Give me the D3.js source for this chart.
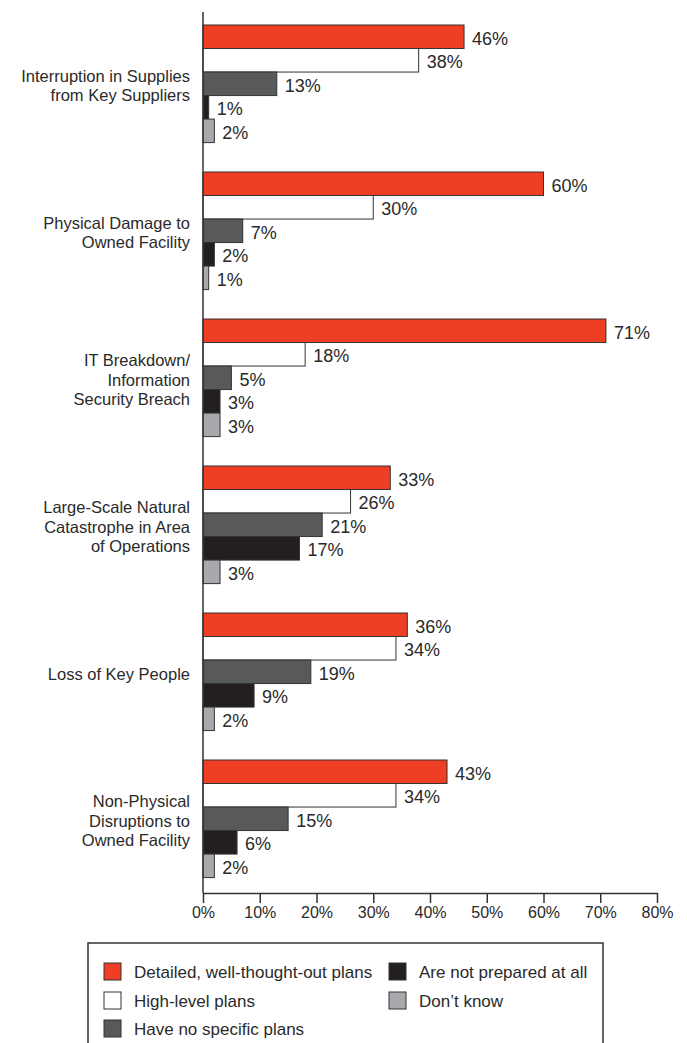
<!DOCTYPE html>
<html>
<head>
<meta charset="utf-8">
<script src="https://cdn.jsdelivr.net/npm/d3@7"></script>
<style>
  body { margin: 0; background: #fff; }
  svg { display: block; font-family: "Liberation Sans", Arial, sans-serif; }
</style>
</head>
<body>
<div id="chart"></div>
<script>
// --- data ---
const categories = [
  ["Interruption in Supplies", "from Key Suppliers"],
  ["Physical Damage to", "Owned Facility"],
  ["IT Breakdown/", "Information", "Security Breach"],
  ["Large-Scale Natural", "Catastrophe in Area", "of Operations"],
  ["Loss of Key People"],
  ["Non-Physical", "Disruptions to", "Owned Facility"]
];
const seriesNames = ["Detailed, well-thought-out plans", "High-level plans", "Have no specific plans",
  "Are not prepared at all", "Don\u2019t know"];
const detailed = [46, 60, 71, 33, 36, 43];
const highLevel = [38, 30, 18, 26, 34, 34];
const noSpecific = [13, 7, 5, 21, 19, 15];
const notPrepared = [1, 2, 3, 17, 9, 6];
const dontKnow = [2, 1, 3, 3, 2, 2];
const seriesColors = ["#ee3e23", "#ffffff", "#58595b", "#231f20", "#a7a9ac"];
const xTicks = [0, 10, 20, 30, 40, 50, 60, 70, 80];

const series = [detailed, highLevel, noSpecific, notPrepared, dontKnow];

const W = 687, H = 1043;
const svg = d3.select("#chart").append("svg").attr("width", W).attr("height", H);

const x = d3.scaleLinear().domain([0, 80]).range([203, 657]);
const y0 = d3.scaleBand().domain(d3.range(categories.length))
  .range([10.3, 892.3]).paddingInner(0.2).paddingOuter(0.1);
const y1 = d3.scaleBand().domain(d3.range(series.length)).range([0, y0.bandwidth()]);

// bars
const groups = svg.selectAll("g.grp").data(categories).join("g")
  .attr("class", "grp")
  .attr("transform", (d, i) => `translate(0,${y0(i)})`);

groups.each(function(cat, ci) {
  const g = d3.select(this);
  series.forEach((vals, si) => {
    const v = vals[ci];
    g.append("rect")
      .attr("x", x(0))
      .attr("y", y1(si))
      .attr("width", x(v) - x(0))
      .attr("height", y1.bandwidth())
      .attr("fill", seriesColors[si])
      .attr("stroke", "#333")
      .attr("stroke-width", 1);
    g.append("text")
      .attr("x", x(v) + 8)
      .attr("y", y1(si) + y1.bandwidth() / 2 + 1.5)
      .attr("dy", "0.36em")
      .attr("font-size", 18)
      .attr("fill", "#2a2a2a")
      .text(v + "%");
  });
  const lh = 19.5;
  const cy = y0.bandwidth() / 2 + 2 - (cat.length - 1) * lh / 2;
  g.append("text")
    .attr("text-anchor", "end")
    .attr("font-size", 16.5)
    .attr("fill", "#2a2a2a")
    .selectAll("tspan").data(cat).join("tspan")
    .attr("x", 190)
    .attr("y", (d, i) => cy + i * lh)
    .attr("dy", "0.35em")
    .text(d => d);
});

// axes
svg.append("line")
  .attr("x1", x(0)).attr("x2", x(0)).attr("y1", 12).attr("y2", 893)
  .attr("stroke", "#333").attr("stroke-width", 1.5);

const xAxis = svg.append("g")
  .attr("transform", "translate(0,893)")
  .call(d3.axisBottom(x).tickValues(xTicks).tickSize(10).tickSizeOuter(0).tickFormat(d => d + "%"));
xAxis.select(".domain").attr("stroke", "#333").attr("stroke-width", 1.5);
xAxis.selectAll(".tick line").attr("stroke", "#333").attr("stroke-width", 1.5);
xAxis.selectAll(".tick text")
  .attr("font-family", "Liberation Sans, Arial, sans-serif")
  .attr("font-size", 16).attr("fill", "#2a2a2a").attr("y", 14);

// legend
const legend = svg.append("g");
legend.append("rect")
  .attr("x", 88).attr("y", 943).attr("width", 515).attr("height", 120)
  .attr("fill", "none").attr("stroke", "#333").attr("stroke-width", 1.5);

const legendPos = [[104, 963], [104, 992], [104, 1020], [389, 963], [389, 992]];
seriesNames.forEach((name, i) => {
  const [lx, ly] = legendPos[i];
  legend.append("rect")
    .attr("x", lx).attr("y", ly).attr("width", 17).attr("height", 17)
    .attr("fill", seriesColors[i]).attr("stroke", "#333").attr("stroke-width", 1);
  legend.append("text")
    .attr("x", lx + 30).attr("y", ly + 8.5).attr("dy", "0.36em")
    .attr("font-size", 17).attr("fill", "#2a2a2a")
    .text(name);
});
</script>
</body>
</html>
